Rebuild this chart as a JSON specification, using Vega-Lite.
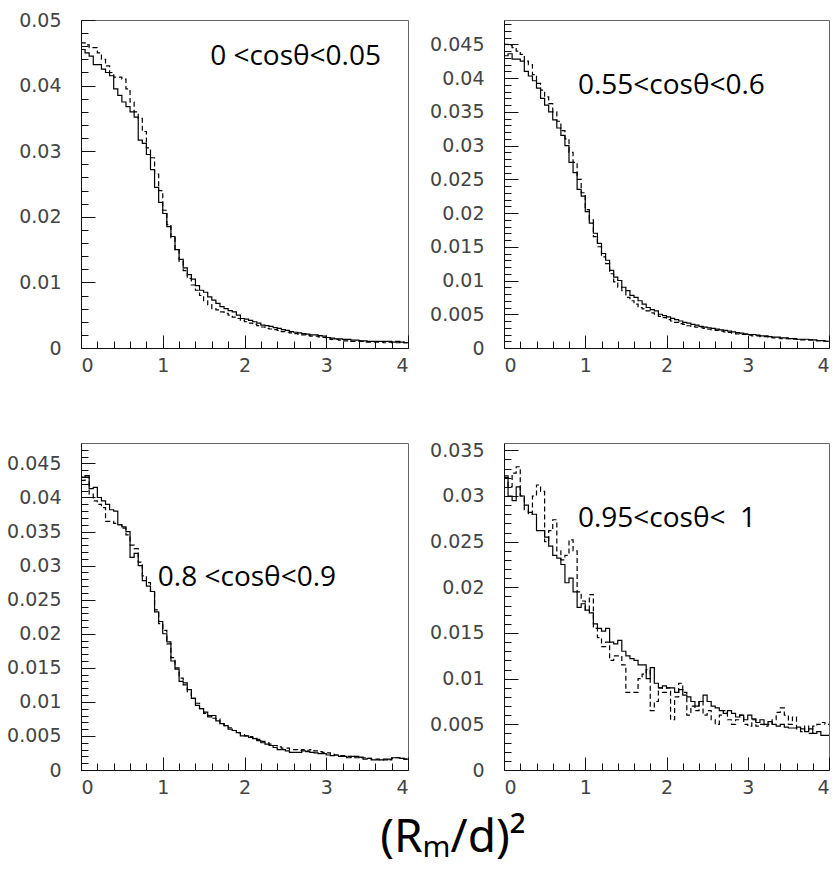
{
  "$schema": "https://vega.github.io/schema/vega-lite/v6.json",
  "padding": {"left": 6, "top": 10, "right": 0, "bottom": 14},
  "background": "white",
  "config": {
    "view": {"stroke": "#666", "strokeWidth": 1},
    "axis": {"grid": false, "title": null, "labelFont": "DejaVu Sans", "labelFontSize": 19, "labelColor": "#444", "tickColor": "#111", "domainColor": "#111", "tickWidth": 1, "domainWidth": 1}
  },
  "title": {"text": "(Rₘ/d)²", "orient": "bottom", "anchor": "middle", "font": "Noto Sans", "fontSize": 46, "fontWeight": "normal", "color": "black", "offset": 18, "dx": 34},
  "datasets": {
    "labels": [
      {"p": 1, "label": "0 <cosθ<0.05"},
      {"p": 2, "label": "0.55<cosθ<0.6"},
      {"p": 3, "label": "0.8 <cosθ<0.9"},
      {"p": 4, "label": "0.95<cosθ<\u00a0\u00a01"}
    ],
    "h": [
{"p":1,"s":"solid","x":0.00,"y":0.0455},{"p":1,"s":"solid","x":0.05,"y":0.0450},{"p":1,"s":"solid","x":0.10,"y":0.0445},{"p":1,"s":"solid","x":0.15,"y":0.0432},{"p":1,"s":"solid","x":0.20,"y":0.0432},{"p":1,"s":"solid","x":0.25,"y":0.0425},{"p":1,"s":"solid","x":0.30,"y":0.0420},{"p":1,"s":"solid","x":0.35,"y":0.0415},{"p":1,"s":"solid","x":0.40,"y":0.0395},{"p":1,"s":"solid","x":0.45,"y":0.0385},
{"p":1,"s":"solid","x":0.50,"y":0.0375},{"p":1,"s":"solid","x":0.55,"y":0.0368},{"p":1,"s":"solid","x":0.60,"y":0.0360},{"p":1,"s":"solid","x":0.65,"y":0.0352},{"p":1,"s":"solid","x":0.70,"y":0.0317},{"p":1,"s":"solid","x":0.75,"y":0.0312},{"p":1,"s":"solid","x":0.80,"y":0.0295},{"p":1,"s":"solid","x":0.85,"y":0.0272},{"p":1,"s":"solid","x":0.90,"y":0.0245},{"p":1,"s":"solid","x":0.95,"y":0.0222},
{"p":1,"s":"solid","x":1.00,"y":0.0205},{"p":1,"s":"solid","x":1.05,"y":0.0185},{"p":1,"s":"solid","x":1.10,"y":0.0170},{"p":1,"s":"solid","x":1.15,"y":0.0150},{"p":1,"s":"solid","x":1.20,"y":0.0135},{"p":1,"s":"solid","x":1.25,"y":0.0122},{"p":1,"s":"solid","x":1.30,"y":0.0112},{"p":1,"s":"solid","x":1.35,"y":0.0105},{"p":1,"s":"solid","x":1.40,"y":0.0095},{"p":1,"s":"solid","x":1.45,"y":0.0088},
{"p":1,"s":"solid","x":1.50,"y":0.0085},{"p":1,"s":"solid","x":1.55,"y":0.0078},{"p":1,"s":"solid","x":1.60,"y":0.0073},{"p":1,"s":"solid","x":1.65,"y":0.0068},{"p":1,"s":"solid","x":1.70,"y":0.0063},{"p":1,"s":"solid","x":1.75,"y":0.0060},{"p":1,"s":"solid","x":1.80,"y":0.0057},{"p":1,"s":"solid","x":1.85,"y":0.0055},{"p":1,"s":"solid","x":1.90,"y":0.0050},{"p":1,"s":"solid","x":1.95,"y":0.0045},
{"p":1,"s":"solid","x":2.00,"y":0.0044},{"p":1,"s":"solid","x":2.05,"y":0.0042},{"p":1,"s":"solid","x":2.10,"y":0.0040},{"p":1,"s":"solid","x":2.15,"y":0.0038},{"p":1,"s":"solid","x":2.20,"y":0.0035},{"p":1,"s":"solid","x":2.25,"y":0.0034},{"p":1,"s":"solid","x":2.30,"y":0.0033},{"p":1,"s":"solid","x":2.35,"y":0.0031},{"p":1,"s":"solid","x":2.40,"y":0.0030},{"p":1,"s":"solid","x":2.45,"y":0.0028},
{"p":1,"s":"solid","x":2.50,"y":0.0027},{"p":1,"s":"solid","x":2.55,"y":0.0025},{"p":1,"s":"solid","x":2.60,"y":0.0024},{"p":1,"s":"solid","x":2.65,"y":0.0023},{"p":1,"s":"solid","x":2.70,"y":0.0022},{"p":1,"s":"solid","x":2.75,"y":0.0021},{"p":1,"s":"solid","x":2.80,"y":0.0020},{"p":1,"s":"solid","x":2.85,"y":0.0020},{"p":1,"s":"solid","x":2.90,"y":0.0019},{"p":1,"s":"solid","x":2.95,"y":0.0018},
{"p":1,"s":"solid","x":3.00,"y":0.0016},{"p":1,"s":"solid","x":3.05,"y":0.0015},{"p":1,"s":"solid","x":3.10,"y":0.0014},{"p":1,"s":"solid","x":3.15,"y":0.0014},{"p":1,"s":"solid","x":3.20,"y":0.0013},{"p":1,"s":"solid","x":3.25,"y":0.0013},{"p":1,"s":"solid","x":3.30,"y":0.0012},{"p":1,"s":"solid","x":3.35,"y":0.0012},{"p":1,"s":"solid","x":3.40,"y":0.0011},{"p":1,"s":"solid","x":3.45,"y":0.0011},
{"p":1,"s":"solid","x":3.50,"y":0.0010},{"p":1,"s":"solid","x":3.55,"y":0.0010},{"p":1,"s":"solid","x":3.60,"y":0.0010},{"p":1,"s":"solid","x":3.65,"y":0.0010},{"p":1,"s":"solid","x":3.70,"y":0.0010},{"p":1,"s":"solid","x":3.75,"y":0.0010},{"p":1,"s":"solid","x":3.80,"y":0.0009},{"p":1,"s":"solid","x":3.85,"y":0.0010},{"p":1,"s":"solid","x":3.90,"y":0.0009},{"p":1,"s":"solid","x":3.95,"y":0.0008},{"p":1,"s":"solid","x":4.00,"y":0.0008},

{"p":1,"s":"dashed","x":0.00,"y":0.0465},{"p":1,"s":"dashed","x":0.05,"y":0.0462},{"p":1,"s":"dashed","x":0.10,"y":0.0458},{"p":1,"s":"dashed","x":0.15,"y":0.0458},{"p":1,"s":"dashed","x":0.20,"y":0.0450},{"p":1,"s":"dashed","x":0.25,"y":0.0440},{"p":1,"s":"dashed","x":0.30,"y":0.0430},{"p":1,"s":"dashed","x":0.35,"y":0.0420},{"p":1,"s":"dashed","x":0.40,"y":0.0413},{"p":1,"s":"dashed","x":0.45,"y":0.0413},
{"p":1,"s":"dashed","x":0.50,"y":0.0410},{"p":1,"s":"dashed","x":0.55,"y":0.0395},{"p":1,"s":"dashed","x":0.60,"y":0.0375},{"p":1,"s":"dashed","x":0.65,"y":0.0360},{"p":1,"s":"dashed","x":0.70,"y":0.0350},{"p":1,"s":"dashed","x":0.75,"y":0.0330},{"p":1,"s":"dashed","x":0.80,"y":0.0305},{"p":1,"s":"dashed","x":0.85,"y":0.0290},{"p":1,"s":"dashed","x":0.90,"y":0.0265},{"p":1,"s":"dashed","x":0.95,"y":0.0240},
{"p":1,"s":"dashed","x":1.00,"y":0.0210},{"p":1,"s":"dashed","x":1.05,"y":0.0188},{"p":1,"s":"dashed","x":1.10,"y":0.0168},{"p":1,"s":"dashed","x":1.15,"y":0.0150},{"p":1,"s":"dashed","x":1.20,"y":0.0132},{"p":1,"s":"dashed","x":1.25,"y":0.0118},{"p":1,"s":"dashed","x":1.30,"y":0.0106},{"p":1,"s":"dashed","x":1.35,"y":0.0096},{"p":1,"s":"dashed","x":1.40,"y":0.0088},{"p":1,"s":"dashed","x":1.45,"y":0.0080},
{"p":1,"s":"dashed","x":1.50,"y":0.0072},{"p":1,"s":"dashed","x":1.55,"y":0.0066},{"p":1,"s":"dashed","x":1.60,"y":0.0060},{"p":1,"s":"dashed","x":1.65,"y":0.0058},{"p":1,"s":"dashed","x":1.70,"y":0.0055},{"p":1,"s":"dashed","x":1.75,"y":0.0053},{"p":1,"s":"dashed","x":1.80,"y":0.0050},{"p":1,"s":"dashed","x":1.85,"y":0.0047},{"p":1,"s":"dashed","x":1.90,"y":0.0045},{"p":1,"s":"dashed","x":1.95,"y":0.0042},
{"p":1,"s":"dashed","x":2.00,"y":0.0040},{"p":1,"s":"dashed","x":2.05,"y":0.0038},{"p":1,"s":"dashed","x":2.10,"y":0.0036},{"p":1,"s":"dashed","x":2.15,"y":0.0034},{"p":1,"s":"dashed","x":2.20,"y":0.0032},{"p":1,"s":"dashed","x":2.25,"y":0.0030},{"p":1,"s":"dashed","x":2.30,"y":0.0029},{"p":1,"s":"dashed","x":2.35,"y":0.0028},{"p":1,"s":"dashed","x":2.40,"y":0.0027},{"p":1,"s":"dashed","x":2.45,"y":0.0025},
{"p":1,"s":"dashed","x":2.50,"y":0.0024},{"p":1,"s":"dashed","x":2.55,"y":0.0023},{"p":1,"s":"dashed","x":2.60,"y":0.0022},{"p":1,"s":"dashed","x":2.65,"y":0.0021},{"p":1,"s":"dashed","x":2.70,"y":0.0020},{"p":1,"s":"dashed","x":2.75,"y":0.0019},{"p":1,"s":"dashed","x":2.80,"y":0.0018},{"p":1,"s":"dashed","x":2.85,"y":0.0018},{"p":1,"s":"dashed","x":2.90,"y":0.0017},{"p":1,"s":"dashed","x":2.95,"y":0.0016},
{"p":1,"s":"dashed","x":3.00,"y":0.0014},{"p":1,"s":"dashed","x":3.05,"y":0.0013},{"p":1,"s":"dashed","x":3.10,"y":0.0013},{"p":1,"s":"dashed","x":3.15,"y":0.0012},{"p":1,"s":"dashed","x":3.20,"y":0.0011},{"p":1,"s":"dashed","x":3.25,"y":0.0011},{"p":1,"s":"dashed","x":3.30,"y":0.0010},{"p":1,"s":"dashed","x":3.35,"y":0.0010},{"p":1,"s":"dashed","x":3.40,"y":0.0010},{"p":1,"s":"dashed","x":3.45,"y":0.0009},
{"p":1,"s":"dashed","x":3.50,"y":0.0009},{"p":1,"s":"dashed","x":3.55,"y":0.0009},{"p":1,"s":"dashed","x":3.60,"y":0.0009},{"p":1,"s":"dashed","x":3.65,"y":0.0009},{"p":1,"s":"dashed","x":3.70,"y":0.0008},{"p":1,"s":"dashed","x":3.75,"y":0.0009},{"p":1,"s":"dashed","x":3.80,"y":0.0008},{"p":1,"s":"dashed","x":3.85,"y":0.0008},{"p":1,"s":"dashed","x":3.90,"y":0.0009},{"p":1,"s":"dashed","x":3.95,"y":0.0008},{"p":1,"s":"dashed","x":4.00,"y":0.0008},

{"p":2,"s":"solid","x":0.00,"y":0.0433},{"p":2,"s":"solid","x":0.05,"y":0.0436},{"p":2,"s":"solid","x":0.10,"y":0.0428},{"p":2,"s":"solid","x":0.15,"y":0.0428},{"p":2,"s":"solid","x":0.20,"y":0.0425},{"p":2,"s":"solid","x":0.25,"y":0.0410},{"p":2,"s":"solid","x":0.30,"y":0.0403},{"p":2,"s":"solid","x":0.35,"y":0.0396},{"p":2,"s":"solid","x":0.40,"y":0.0385},{"p":2,"s":"solid","x":0.45,"y":0.0370},
{"p":2,"s":"solid","x":0.50,"y":0.0360},{"p":2,"s":"solid","x":0.55,"y":0.0350},{"p":2,"s":"solid","x":0.60,"y":0.0338},{"p":2,"s":"solid","x":0.65,"y":0.0326},{"p":2,"s":"solid","x":0.70,"y":0.0315},{"p":2,"s":"solid","x":0.75,"y":0.0300},{"p":2,"s":"solid","x":0.80,"y":0.0275},{"p":2,"s":"solid","x":0.85,"y":0.0260},{"p":2,"s":"solid","x":0.90,"y":0.0235},{"p":2,"s":"solid","x":0.95,"y":0.0225},
{"p":2,"s":"solid","x":1.00,"y":0.0202},{"p":2,"s":"solid","x":1.05,"y":0.0185},{"p":2,"s":"solid","x":1.10,"y":0.0170},{"p":2,"s":"solid","x":1.15,"y":0.0155},{"p":2,"s":"solid","x":1.20,"y":0.0140},{"p":2,"s":"solid","x":1.25,"y":0.0130},{"p":2,"s":"solid","x":1.30,"y":0.0115},{"p":2,"s":"solid","x":1.35,"y":0.0105},{"p":2,"s":"solid","x":1.40,"y":0.0100},{"p":2,"s":"solid","x":1.45,"y":0.0090},
{"p":2,"s":"solid","x":1.50,"y":0.0085},{"p":2,"s":"solid","x":1.55,"y":0.0078},{"p":2,"s":"solid","x":1.60,"y":0.0075},{"p":2,"s":"solid","x":1.65,"y":0.0070},{"p":2,"s":"solid","x":1.70,"y":0.0065},{"p":2,"s":"solid","x":1.75,"y":0.0060},{"p":2,"s":"solid","x":1.80,"y":0.0057},{"p":2,"s":"solid","x":1.85,"y":0.0055},{"p":2,"s":"solid","x":1.90,"y":0.0050},{"p":2,"s":"solid","x":1.95,"y":0.0048},
{"p":2,"s":"solid","x":2.00,"y":0.0046},{"p":2,"s":"solid","x":2.05,"y":0.0044},{"p":2,"s":"solid","x":2.10,"y":0.0042},{"p":2,"s":"solid","x":2.15,"y":0.0040},{"p":2,"s":"solid","x":2.20,"y":0.0038},{"p":2,"s":"solid","x":2.25,"y":0.0037},{"p":2,"s":"solid","x":2.30,"y":0.0035},{"p":2,"s":"solid","x":2.35,"y":0.0034},{"p":2,"s":"solid","x":2.40,"y":0.0032},{"p":2,"s":"solid","x":2.45,"y":0.0031},
{"p":2,"s":"solid","x":2.50,"y":0.0030},{"p":2,"s":"solid","x":2.55,"y":0.0029},{"p":2,"s":"solid","x":2.60,"y":0.0028},{"p":2,"s":"solid","x":2.65,"y":0.0027},{"p":2,"s":"solid","x":2.70,"y":0.0026},{"p":2,"s":"solid","x":2.75,"y":0.0025},{"p":2,"s":"solid","x":2.80,"y":0.0024},{"p":2,"s":"solid","x":2.85,"y":0.0023},{"p":2,"s":"solid","x":2.90,"y":0.0022},{"p":2,"s":"solid","x":2.95,"y":0.0021},
{"p":2,"s":"solid","x":3.00,"y":0.0020},{"p":2,"s":"solid","x":3.05,"y":0.0020},{"p":2,"s":"solid","x":3.10,"y":0.0019},{"p":2,"s":"solid","x":3.15,"y":0.0018},{"p":2,"s":"solid","x":3.20,"y":0.0018},{"p":2,"s":"solid","x":3.25,"y":0.0017},{"p":2,"s":"solid","x":3.30,"y":0.0016},{"p":2,"s":"solid","x":3.35,"y":0.0016},{"p":2,"s":"solid","x":3.40,"y":0.0015},{"p":2,"s":"solid","x":3.45,"y":0.0015},
{"p":2,"s":"solid","x":3.50,"y":0.0014},{"p":2,"s":"solid","x":3.55,"y":0.0014},{"p":2,"s":"solid","x":3.60,"y":0.0013},{"p":2,"s":"solid","x":3.65,"y":0.0013},{"p":2,"s":"solid","x":3.70,"y":0.0013},{"p":2,"s":"solid","x":3.75,"y":0.0012},{"p":2,"s":"solid","x":3.80,"y":0.0012},{"p":2,"s":"solid","x":3.85,"y":0.0011},{"p":2,"s":"solid","x":3.90,"y":0.0011},{"p":2,"s":"solid","x":3.95,"y":0.0010},{"p":2,"s":"solid","x":4.00,"y":0.0010},

{"p":2,"s":"dashed","x":0.00,"y":0.0450},{"p":2,"s":"dashed","x":0.05,"y":0.0448},{"p":2,"s":"dashed","x":0.10,"y":0.0445},{"p":2,"s":"dashed","x":0.15,"y":0.0440},{"p":2,"s":"dashed","x":0.20,"y":0.0435},{"p":2,"s":"dashed","x":0.25,"y":0.0425},{"p":2,"s":"dashed","x":0.30,"y":0.0420},{"p":2,"s":"dashed","x":0.35,"y":0.0405},{"p":2,"s":"dashed","x":0.40,"y":0.0392},{"p":2,"s":"dashed","x":0.45,"y":0.0382},
{"p":2,"s":"dashed","x":0.50,"y":0.0372},{"p":2,"s":"dashed","x":0.55,"y":0.0362},{"p":2,"s":"dashed","x":0.60,"y":0.0350},{"p":2,"s":"dashed","x":0.65,"y":0.0336},{"p":2,"s":"dashed","x":0.70,"y":0.0322},{"p":2,"s":"dashed","x":0.75,"y":0.0310},{"p":2,"s":"dashed","x":0.80,"y":0.0290},{"p":2,"s":"dashed","x":0.85,"y":0.0275},{"p":2,"s":"dashed","x":0.90,"y":0.0250},{"p":2,"s":"dashed","x":0.95,"y":0.0230},
{"p":2,"s":"dashed","x":1.00,"y":0.0205},{"p":2,"s":"dashed","x":1.05,"y":0.0190},{"p":2,"s":"dashed","x":1.10,"y":0.0165},{"p":2,"s":"dashed","x":1.15,"y":0.0150},{"p":2,"s":"dashed","x":1.20,"y":0.0135},{"p":2,"s":"dashed","x":1.25,"y":0.0125},{"p":2,"s":"dashed","x":1.30,"y":0.0110},{"p":2,"s":"dashed","x":1.35,"y":0.0098},{"p":2,"s":"dashed","x":1.40,"y":0.0090},{"p":2,"s":"dashed","x":1.45,"y":0.0085},
{"p":2,"s":"dashed","x":1.50,"y":0.0075},{"p":2,"s":"dashed","x":1.55,"y":0.0070},{"p":2,"s":"dashed","x":1.60,"y":0.0065},{"p":2,"s":"dashed","x":1.65,"y":0.0060},{"p":2,"s":"dashed","x":1.70,"y":0.0058},{"p":2,"s":"dashed","x":1.75,"y":0.0055},{"p":2,"s":"dashed","x":1.80,"y":0.0052},{"p":2,"s":"dashed","x":1.85,"y":0.0050},{"p":2,"s":"dashed","x":1.90,"y":0.0047},{"p":2,"s":"dashed","x":1.95,"y":0.0045},
{"p":2,"s":"dashed","x":2.00,"y":0.0042},{"p":2,"s":"dashed","x":2.05,"y":0.0040},{"p":2,"s":"dashed","x":2.10,"y":0.0038},{"p":2,"s":"dashed","x":2.15,"y":0.0036},{"p":2,"s":"dashed","x":2.20,"y":0.0035},{"p":2,"s":"dashed","x":2.25,"y":0.0033},{"p":2,"s":"dashed","x":2.30,"y":0.0032},{"p":2,"s":"dashed","x":2.35,"y":0.0031},{"p":2,"s":"dashed","x":2.40,"y":0.0030},{"p":2,"s":"dashed","x":2.45,"y":0.0029},
{"p":2,"s":"dashed","x":2.50,"y":0.0028},{"p":2,"s":"dashed","x":2.55,"y":0.0027},{"p":2,"s":"dashed","x":2.60,"y":0.0026},{"p":2,"s":"dashed","x":2.65,"y":0.0025},{"p":2,"s":"dashed","x":2.70,"y":0.0024},{"p":2,"s":"dashed","x":2.75,"y":0.0023},{"p":2,"s":"dashed","x":2.80,"y":0.0022},{"p":2,"s":"dashed","x":2.85,"y":0.0021},{"p":2,"s":"dashed","x":2.90,"y":0.0020},{"p":2,"s":"dashed","x":2.95,"y":0.0020},
{"p":2,"s":"dashed","x":3.00,"y":0.0019},{"p":2,"s":"dashed","x":3.05,"y":0.0018},{"p":2,"s":"dashed","x":3.10,"y":0.0018},{"p":2,"s":"dashed","x":3.15,"y":0.0017},{"p":2,"s":"dashed","x":3.20,"y":0.0017},{"p":2,"s":"dashed","x":3.25,"y":0.0016},{"p":2,"s":"dashed","x":3.30,"y":0.0015},{"p":2,"s":"dashed","x":3.35,"y":0.0015},{"p":2,"s":"dashed","x":3.40,"y":0.0014},{"p":2,"s":"dashed","x":3.45,"y":0.0014},
{"p":2,"s":"dashed","x":3.50,"y":0.0014},{"p":2,"s":"dashed","x":3.55,"y":0.0013},{"p":2,"s":"dashed","x":3.60,"y":0.0013},{"p":2,"s":"dashed","x":3.65,"y":0.0012},{"p":2,"s":"dashed","x":3.70,"y":0.0012},{"p":2,"s":"dashed","x":3.75,"y":0.0012},{"p":2,"s":"dashed","x":3.80,"y":0.0011},{"p":2,"s":"dashed","x":3.85,"y":0.0011},{"p":2,"s":"dashed","x":3.90,"y":0.0010},{"p":2,"s":"dashed","x":3.95,"y":0.0010},{"p":2,"s":"dashed","x":4.00,"y":0.0010},

{"p":3,"s":"solid","x":0.00,"y":0.0430},{"p":3,"s":"solid","x":0.05,"y":0.0432},{"p":3,"s":"solid","x":0.10,"y":0.0413},{"p":3,"s":"solid","x":0.15,"y":0.0415},{"p":3,"s":"solid","x":0.20,"y":0.0400},{"p":3,"s":"solid","x":0.25,"y":0.0395},{"p":3,"s":"solid","x":0.30,"y":0.0390},{"p":3,"s":"solid","x":0.35,"y":0.0382},{"p":3,"s":"solid","x":0.40,"y":0.0380},{"p":3,"s":"solid","x":0.45,"y":0.0360},
{"p":3,"s":"solid","x":0.50,"y":0.0357},{"p":3,"s":"solid","x":0.55,"y":0.0350},{"p":3,"s":"solid","x":0.60,"y":0.0312},{"p":3,"s":"solid","x":0.65,"y":0.0318},{"p":3,"s":"solid","x":0.70,"y":0.0300},{"p":3,"s":"solid","x":0.75,"y":0.0278},{"p":3,"s":"solid","x":0.80,"y":0.0270},{"p":3,"s":"solid","x":0.85,"y":0.0262},{"p":3,"s":"solid","x":0.90,"y":0.0232},{"p":3,"s":"solid","x":0.95,"y":0.0218},
{"p":3,"s":"solid","x":1.00,"y":0.0200},{"p":3,"s":"solid","x":1.05,"y":0.0188},{"p":3,"s":"solid","x":1.10,"y":0.0160},{"p":3,"s":"solid","x":1.15,"y":0.0148},{"p":3,"s":"solid","x":1.20,"y":0.0130},{"p":3,"s":"solid","x":1.25,"y":0.0128},{"p":3,"s":"solid","x":1.30,"y":0.0118},{"p":3,"s":"solid","x":1.35,"y":0.0105},{"p":3,"s":"solid","x":1.40,"y":0.0095},{"p":3,"s":"solid","x":1.45,"y":0.0090},
{"p":3,"s":"solid","x":1.50,"y":0.0085},{"p":3,"s":"solid","x":1.55,"y":0.0078},{"p":3,"s":"solid","x":1.60,"y":0.0080},{"p":3,"s":"solid","x":1.65,"y":0.0072},{"p":3,"s":"solid","x":1.70,"y":0.0068},{"p":3,"s":"solid","x":1.75,"y":0.0065},{"p":3,"s":"solid","x":1.80,"y":0.0060},{"p":3,"s":"solid","x":1.85,"y":0.0058},{"p":3,"s":"solid","x":1.90,"y":0.0055},{"p":3,"s":"solid","x":1.95,"y":0.0050},
{"p":3,"s":"solid","x":2.00,"y":0.0050},{"p":3,"s":"solid","x":2.05,"y":0.0048},{"p":3,"s":"solid","x":2.10,"y":0.0046},{"p":3,"s":"solid","x":2.15,"y":0.0043},{"p":3,"s":"solid","x":2.20,"y":0.0040},{"p":3,"s":"solid","x":2.25,"y":0.0038},{"p":3,"s":"solid","x":2.30,"y":0.0036},{"p":3,"s":"solid","x":2.35,"y":0.0033},{"p":3,"s":"solid","x":2.40,"y":0.0030},{"p":3,"s":"solid","x":2.45,"y":0.0030},
{"p":3,"s":"solid","x":2.50,"y":0.0028},{"p":3,"s":"solid","x":2.55,"y":0.0026},{"p":3,"s":"solid","x":2.60,"y":0.0026},{"p":3,"s":"solid","x":2.65,"y":0.0026},{"p":3,"s":"solid","x":2.70,"y":0.0028},{"p":3,"s":"solid","x":2.75,"y":0.0027},{"p":3,"s":"solid","x":2.80,"y":0.0026},{"p":3,"s":"solid","x":2.85,"y":0.0025},{"p":3,"s":"solid","x":2.90,"y":0.0024},{"p":3,"s":"solid","x":2.95,"y":0.0024},
{"p":3,"s":"solid","x":3.00,"y":0.0022},{"p":3,"s":"solid","x":3.05,"y":0.0021},{"p":3,"s":"solid","x":3.10,"y":0.0022},{"p":3,"s":"solid","x":3.15,"y":0.0020},{"p":3,"s":"solid","x":3.20,"y":0.0020},{"p":3,"s":"solid","x":3.25,"y":0.0018},{"p":3,"s":"solid","x":3.30,"y":0.0020},{"p":3,"s":"solid","x":3.35,"y":0.0018},{"p":3,"s":"solid","x":3.40,"y":0.0019},{"p":3,"s":"solid","x":3.45,"y":0.0016},
{"p":3,"s":"solid","x":3.50,"y":0.0017},{"p":3,"s":"solid","x":3.55,"y":0.0015},{"p":3,"s":"solid","x":3.60,"y":0.0015},{"p":3,"s":"solid","x":3.65,"y":0.0015},{"p":3,"s":"solid","x":3.70,"y":0.0015},{"p":3,"s":"solid","x":3.75,"y":0.0016},{"p":3,"s":"solid","x":3.80,"y":0.0018},{"p":3,"s":"solid","x":3.85,"y":0.0018},{"p":3,"s":"solid","x":3.90,"y":0.0017},{"p":3,"s":"solid","x":3.95,"y":0.0016},{"p":3,"s":"solid","x":4.00,"y":0.0016},

{"p":3,"s":"dashed","x":0.00,"y":0.0425},{"p":3,"s":"dashed","x":0.05,"y":0.0430},{"p":3,"s":"dashed","x":0.10,"y":0.0405},{"p":3,"s":"dashed","x":0.15,"y":0.0395},{"p":3,"s":"dashed","x":0.20,"y":0.0390},{"p":3,"s":"dashed","x":0.25,"y":0.0385},{"p":3,"s":"dashed","x":0.30,"y":0.0365},{"p":3,"s":"dashed","x":0.35,"y":0.0365},{"p":3,"s":"dashed","x":0.40,"y":0.0362},{"p":3,"s":"dashed","x":0.45,"y":0.0360},
{"p":3,"s":"dashed","x":0.50,"y":0.0355},{"p":3,"s":"dashed","x":0.55,"y":0.0345},{"p":3,"s":"dashed","x":0.60,"y":0.0330},{"p":3,"s":"dashed","x":0.65,"y":0.0325},{"p":3,"s":"dashed","x":0.70,"y":0.0305},{"p":3,"s":"dashed","x":0.75,"y":0.0285},{"p":3,"s":"dashed","x":0.80,"y":0.0275},{"p":3,"s":"dashed","x":0.85,"y":0.0262},{"p":3,"s":"dashed","x":0.90,"y":0.0235},{"p":3,"s":"dashed","x":0.95,"y":0.0215},
{"p":3,"s":"dashed","x":1.00,"y":0.0205},{"p":3,"s":"dashed","x":1.05,"y":0.0185},{"p":3,"s":"dashed","x":1.10,"y":0.0165},{"p":3,"s":"dashed","x":1.15,"y":0.0150},{"p":3,"s":"dashed","x":1.20,"y":0.0135},{"p":3,"s":"dashed","x":1.25,"y":0.0125},{"p":3,"s":"dashed","x":1.30,"y":0.0115},{"p":3,"s":"dashed","x":1.35,"y":0.0105},{"p":3,"s":"dashed","x":1.40,"y":0.0098},{"p":3,"s":"dashed","x":1.45,"y":0.0090},
{"p":3,"s":"dashed","x":1.50,"y":0.0083},{"p":3,"s":"dashed","x":1.55,"y":0.0080},{"p":3,"s":"dashed","x":1.60,"y":0.0076},{"p":3,"s":"dashed","x":1.65,"y":0.0075},{"p":3,"s":"dashed","x":1.70,"y":0.0068},{"p":3,"s":"dashed","x":1.75,"y":0.0065},{"p":3,"s":"dashed","x":1.80,"y":0.0062},{"p":3,"s":"dashed","x":1.85,"y":0.0058},{"p":3,"s":"dashed","x":1.90,"y":0.0055},{"p":3,"s":"dashed","x":1.95,"y":0.0052},
{"p":3,"s":"dashed","x":2.00,"y":0.0050},{"p":3,"s":"dashed","x":2.05,"y":0.0049},{"p":3,"s":"dashed","x":2.10,"y":0.0047},{"p":3,"s":"dashed","x":2.15,"y":0.0045},{"p":3,"s":"dashed","x":2.20,"y":0.0042},{"p":3,"s":"dashed","x":2.25,"y":0.0040},{"p":3,"s":"dashed","x":2.30,"y":0.0038},{"p":3,"s":"dashed","x":2.35,"y":0.0036},{"p":3,"s":"dashed","x":2.40,"y":0.0034},{"p":3,"s":"dashed","x":2.45,"y":0.0032},
{"p":3,"s":"dashed","x":2.50,"y":0.0032},{"p":3,"s":"dashed","x":2.55,"y":0.0030},{"p":3,"s":"dashed","x":2.60,"y":0.0030},{"p":3,"s":"dashed","x":2.65,"y":0.0029},{"p":3,"s":"dashed","x":2.70,"y":0.0030},{"p":3,"s":"dashed","x":2.75,"y":0.0029},{"p":3,"s":"dashed","x":2.80,"y":0.0030},{"p":3,"s":"dashed","x":2.85,"y":0.0028},{"p":3,"s":"dashed","x":2.90,"y":0.0027},{"p":3,"s":"dashed","x":2.95,"y":0.0026},
{"p":3,"s":"dashed","x":3.00,"y":0.0025},{"p":3,"s":"dashed","x":3.05,"y":0.0023},{"p":3,"s":"dashed","x":3.10,"y":0.0022},{"p":3,"s":"dashed","x":3.15,"y":0.0021},{"p":3,"s":"dashed","x":3.20,"y":0.0021},{"p":3,"s":"dashed","x":3.25,"y":0.0020},{"p":3,"s":"dashed","x":3.30,"y":0.0019},{"p":3,"s":"dashed","x":3.35,"y":0.0020},{"p":3,"s":"dashed","x":3.40,"y":0.0018},{"p":3,"s":"dashed","x":3.45,"y":0.0018},
{"p":3,"s":"dashed","x":3.50,"y":0.0017},{"p":3,"s":"dashed","x":3.55,"y":0.0016},{"p":3,"s":"dashed","x":3.60,"y":0.0016},{"p":3,"s":"dashed","x":3.65,"y":0.0015},{"p":3,"s":"dashed","x":3.70,"y":0.0016},{"p":3,"s":"dashed","x":3.75,"y":0.0015},{"p":3,"s":"dashed","x":3.80,"y":0.0017},{"p":3,"s":"dashed","x":3.85,"y":0.0018},{"p":3,"s":"dashed","x":3.90,"y":0.0017},{"p":3,"s":"dashed","x":3.95,"y":0.0016},{"p":3,"s":"dashed","x":4.00,"y":0.0016},

{"p":4,"s":"solid","x":0.00,"y":0.0322},{"p":4,"s":"solid","x":0.05,"y":0.0300},{"p":4,"s":"solid","x":0.10,"y":0.0295},{"p":4,"s":"solid","x":0.15,"y":0.0310},{"p":4,"s":"solid","x":0.20,"y":0.0300},{"p":4,"s":"solid","x":0.25,"y":0.0290},{"p":4,"s":"solid","x":0.30,"y":0.0282},{"p":4,"s":"solid","x":0.35,"y":0.0280},{"p":4,"s":"solid","x":0.40,"y":0.0262},{"p":4,"s":"solid","x":0.45,"y":0.0262},
{"p":4,"s":"solid","x":0.50,"y":0.0255},{"p":4,"s":"solid","x":0.55,"y":0.0245},{"p":4,"s":"solid","x":0.60,"y":0.0235},{"p":4,"s":"solid","x":0.65,"y":0.0232},{"p":4,"s":"solid","x":0.70,"y":0.0225},{"p":4,"s":"solid","x":0.75,"y":0.0205},{"p":4,"s":"solid","x":0.80,"y":0.0210},{"p":4,"s":"solid","x":0.85,"y":0.0195},{"p":4,"s":"solid","x":0.90,"y":0.0178},{"p":4,"s":"solid","x":0.95,"y":0.0182},
{"p":4,"s":"solid","x":1.00,"y":0.0175},{"p":4,"s":"solid","x":1.05,"y":0.0172},{"p":4,"s":"solid","x":1.10,"y":0.0160},{"p":4,"s":"solid","x":1.15,"y":0.0155},{"p":4,"s":"solid","x":1.20,"y":0.0152},{"p":4,"s":"solid","x":1.25,"y":0.0155},{"p":4,"s":"solid","x":1.30,"y":0.0140},{"p":4,"s":"solid","x":1.35,"y":0.0138},{"p":4,"s":"solid","x":1.40,"y":0.0142},{"p":4,"s":"solid","x":1.45,"y":0.0130},
{"p":4,"s":"solid","x":1.50,"y":0.0125},{"p":4,"s":"solid","x":1.55,"y":0.0122},{"p":4,"s":"solid","x":1.60,"y":0.0120},{"p":4,"s":"solid","x":1.65,"y":0.0115},{"p":4,"s":"solid","x":1.70,"y":0.0115},{"p":4,"s":"solid","x":1.75,"y":0.0100},{"p":4,"s":"solid","x":1.80,"y":0.0112},{"p":4,"s":"solid","x":1.85,"y":0.0095},{"p":4,"s":"solid","x":1.90,"y":0.0090},{"p":4,"s":"solid","x":1.95,"y":0.0092},
{"p":4,"s":"solid","x":2.00,"y":0.0090},{"p":4,"s":"solid","x":2.05,"y":0.0090},{"p":4,"s":"solid","x":2.10,"y":0.0085},{"p":4,"s":"solid","x":2.15,"y":0.0088},{"p":4,"s":"solid","x":2.20,"y":0.0082},{"p":4,"s":"solid","x":2.25,"y":0.0080},{"p":4,"s":"solid","x":2.30,"y":0.0075},{"p":4,"s":"solid","x":2.35,"y":0.0070},{"p":4,"s":"solid","x":2.40,"y":0.0075},{"p":4,"s":"solid","x":2.45,"y":0.0082},
{"p":4,"s":"solid","x":2.50,"y":0.0075},{"p":4,"s":"solid","x":2.55,"y":0.0070},{"p":4,"s":"solid","x":2.60,"y":0.0068},{"p":4,"s":"solid","x":2.65,"y":0.0065},{"p":4,"s":"solid","x":2.70,"y":0.0062},{"p":4,"s":"solid","x":2.75,"y":0.0065},{"p":4,"s":"solid","x":2.80,"y":0.0062},{"p":4,"s":"solid","x":2.85,"y":0.0058},{"p":4,"s":"solid","x":2.90,"y":0.0060},{"p":4,"s":"solid","x":2.95,"y":0.0055},
{"p":4,"s":"solid","x":3.00,"y":0.0060},{"p":4,"s":"solid","x":3.05,"y":0.0056},{"p":4,"s":"solid","x":3.10,"y":0.0052},{"p":4,"s":"solid","x":3.15,"y":0.0055},{"p":4,"s":"solid","x":3.20,"y":0.0050},{"p":4,"s":"solid","x":3.25,"y":0.0053},{"p":4,"s":"solid","x":3.30,"y":0.0050},{"p":4,"s":"solid","x":3.35,"y":0.0048},{"p":4,"s":"solid","x":3.40,"y":0.0050},{"p":4,"s":"solid","x":3.45,"y":0.0047},
{"p":4,"s":"solid","x":3.50,"y":0.0046},{"p":4,"s":"solid","x":3.55,"y":0.0046},{"p":4,"s":"solid","x":3.60,"y":0.0047},{"p":4,"s":"solid","x":3.65,"y":0.0045},{"p":4,"s":"solid","x":3.70,"y":0.0042},{"p":4,"s":"solid","x":3.75,"y":0.0045},{"p":4,"s":"solid","x":3.80,"y":0.0040},{"p":4,"s":"solid","x":3.85,"y":0.0042},{"p":4,"s":"solid","x":3.90,"y":0.0038},{"p":4,"s":"solid","x":3.95,"y":0.0038},{"p":4,"s":"solid","x":4.00,"y":0.0038},

{"p":4,"s":"dashed","x":0.00,"y":0.0320},{"p":4,"s":"dashed","x":0.05,"y":0.0310},{"p":4,"s":"dashed","x":0.10,"y":0.0325},{"p":4,"s":"dashed","x":0.15,"y":0.0332},{"p":4,"s":"dashed","x":0.20,"y":0.0300},{"p":4,"s":"dashed","x":0.25,"y":0.0285},{"p":4,"s":"dashed","x":0.30,"y":0.0280},{"p":4,"s":"dashed","x":0.35,"y":0.0300},{"p":4,"s":"dashed","x":0.40,"y":0.0312},{"p":4,"s":"dashed","x":0.45,"y":0.0305},
{"p":4,"s":"dashed","x":0.50,"y":0.0250},{"p":4,"s":"dashed","x":0.55,"y":0.0262},{"p":4,"s":"dashed","x":0.60,"y":0.0274},{"p":4,"s":"dashed","x":0.65,"y":0.0240},{"p":4,"s":"dashed","x":0.70,"y":0.0230},{"p":4,"s":"dashed","x":0.75,"y":0.0235},{"p":4,"s":"dashed","x":0.80,"y":0.0252},{"p":4,"s":"dashed","x":0.85,"y":0.0240},{"p":4,"s":"dashed","x":0.90,"y":0.0195},{"p":4,"s":"dashed","x":0.95,"y":0.0185},
{"p":4,"s":"dashed","x":1.00,"y":0.0175},{"p":4,"s":"dashed","x":1.05,"y":0.0192},{"p":4,"s":"dashed","x":1.10,"y":0.0155},{"p":4,"s":"dashed","x":1.15,"y":0.0145},{"p":4,"s":"dashed","x":1.20,"y":0.0135},{"p":4,"s":"dashed","x":1.25,"y":0.0140},{"p":4,"s":"dashed","x":1.30,"y":0.0120},{"p":4,"s":"dashed","x":1.35,"y":0.0125},{"p":4,"s":"dashed","x":1.40,"y":0.0125},{"p":4,"s":"dashed","x":1.45,"y":0.0115},
{"p":4,"s":"dashed","x":1.50,"y":0.0085},{"p":4,"s":"dashed","x":1.55,"y":0.0085},{"p":4,"s":"dashed","x":1.60,"y":0.0085},{"p":4,"s":"dashed","x":1.65,"y":0.0100},{"p":4,"s":"dashed","x":1.70,"y":0.0105},{"p":4,"s":"dashed","x":1.75,"y":0.0110},{"p":4,"s":"dashed","x":1.80,"y":0.0065},{"p":4,"s":"dashed","x":1.85,"y":0.0075},{"p":4,"s":"dashed","x":1.90,"y":0.0090},{"p":4,"s":"dashed","x":1.95,"y":0.0085},
{"p":4,"s":"dashed","x":2.00,"y":0.0090},{"p":4,"s":"dashed","x":2.05,"y":0.0055},{"p":4,"s":"dashed","x":2.10,"y":0.0080},{"p":4,"s":"dashed","x":2.15,"y":0.0095},{"p":4,"s":"dashed","x":2.20,"y":0.0085},{"p":4,"s":"dashed","x":2.25,"y":0.0060},{"p":4,"s":"dashed","x":2.30,"y":0.0070},{"p":4,"s":"dashed","x":2.35,"y":0.0065},{"p":4,"s":"dashed","x":2.40,"y":0.0075},{"p":4,"s":"dashed","x":2.45,"y":0.0060},
{"p":4,"s":"dashed","x":2.50,"y":0.0065},{"p":4,"s":"dashed","x":2.55,"y":0.0055},{"p":4,"s":"dashed","x":2.60,"y":0.0050},{"p":4,"s":"dashed","x":2.65,"y":0.0060},{"p":4,"s":"dashed","x":2.70,"y":0.0065},{"p":4,"s":"dashed","x":2.75,"y":0.0055},{"p":4,"s":"dashed","x":2.80,"y":0.0050},{"p":4,"s":"dashed","x":2.85,"y":0.0055},{"p":4,"s":"dashed","x":2.90,"y":0.0060},{"p":4,"s":"dashed","x":2.95,"y":0.0050},
{"p":4,"s":"dashed","x":3.00,"y":0.0048},{"p":4,"s":"dashed","x":3.05,"y":0.0055},{"p":4,"s":"dashed","x":3.10,"y":0.0048},{"p":4,"s":"dashed","x":3.15,"y":0.0050},{"p":4,"s":"dashed","x":3.20,"y":0.0048},{"p":4,"s":"dashed","x":3.25,"y":0.0050},{"p":4,"s":"dashed","x":3.30,"y":0.0055},{"p":4,"s":"dashed","x":3.35,"y":0.0063},{"p":4,"s":"dashed","x":3.40,"y":0.0068},{"p":4,"s":"dashed","x":3.45,"y":0.0060},
{"p":4,"s":"dashed","x":3.50,"y":0.0050},{"p":4,"s":"dashed","x":3.55,"y":0.0058},{"p":4,"s":"dashed","x":3.60,"y":0.0045},{"p":4,"s":"dashed","x":3.65,"y":0.0042},{"p":4,"s":"dashed","x":3.70,"y":0.0048},{"p":4,"s":"dashed","x":3.75,"y":0.0040},{"p":4,"s":"dashed","x":3.80,"y":0.0048},{"p":4,"s":"dashed","x":3.85,"y":0.0050},{"p":4,"s":"dashed","x":3.90,"y":0.0052},{"p":4,"s":"dashed","x":3.95,"y":0.0050},{"p":4,"s":"dashed","x":4.00,"y":0.0050}
    ]
  },
  "data": {"name": "h"},
  "columns": 2,
  "spacing": {"row": 95, "column": 96},
  "bounds": "flush",
  "concat": [
    {
      "width": 327, "height": 328,
      "transform": [{"filter": "datum.p == 1"}],
      "layer": [
        {
          "transform": [{"filter": "datum.s == 'solid'"}],
          "mark": {"type": "line", "interpolate": "step-after", "color": "black", "strokeWidth": 1.2},
          "encoding": {
            "x": {"field": "x", "type": "quantitative", "scale": {"domain": [0, 4], "nice": false}, "axis": {"orient": "bottom", "values": [0, 1, 2, 3, 4], "format": "~g", "tickSize": -13, "labelPadding": 21}},
            "y": {"field": "y", "type": "quantitative", "scale": {"domain": [0, 0.05], "nice": false}, "axis": {"orient": "left", "values": [0, 0.01, 0.02, 0.03, 0.04, 0.05], "format": "~g", "tickSize": -14, "labelPadding": 34}}
          }
        },
        {
          "transform": [{"filter": "datum.s == 'dashed'"}],
          "mark": {"type": "line", "interpolate": "step-after", "color": "black", "strokeWidth": 1.2, "strokeDash": [5, 3]},
          "encoding": {
            "x": {"field": "x", "type": "quantitative", "axis": {"orient": "bottom", "values": [0.2, 0.4, 0.6, 0.8, 1.2, 1.4, 1.6, 1.8, 2.2, 2.4, 2.6, 2.8, 3.2, 3.4, 3.6, 3.8], "labels": false, "domain": false, "tickSize": -7}},
            "y": {"field": "y", "type": "quantitative", "axis": {"orient": "left", "values": [0.002, 0.004, 0.006, 0.008, 0.012, 0.014, 0.016, 0.018, 0.022, 0.024, 0.026, 0.028, 0.032, 0.034, 0.036, 0.038, 0.042, 0.044, 0.046, 0.048], "labels": false, "domain": false, "tickSize": -7}}
          }
        },
        {
          "data": {"name": "labels"},
          "transform": [{"filter": "datum.p == 1"}],
          "mark": {"type": "text", "align": "left", "baseline": "middle", "font": "Open Sans", "fontSize": 28, "color": "black"},
          "encoding": {
            "x": {"datum": 1.58, "type": "quantitative", "axis": null},
            "y": {"datum": 0.0444, "type": "quantitative", "axis": null},
            "text": {"field": "label"}
          }
        }
      ],
      "resolve": {"axis": {"x": "independent", "y": "independent"}}
    },
    {
      "width": 325, "height": 328,
      "transform": [{"filter": "datum.p == 2"}],
      "layer": [
        {
          "transform": [{"filter": "datum.s == 'solid'"}],
          "mark": {"type": "line", "interpolate": "step-after", "color": "black", "strokeWidth": 1.2},
          "encoding": {
            "x": {"field": "x", "type": "quantitative", "scale": {"domain": [0, 4], "nice": false}, "axis": {"orient": "bottom", "values": [0, 1, 2, 3, 4], "format": "~g", "tickSize": -13, "labelPadding": 21}},
            "y": {"field": "y", "type": "quantitative", "scale": {"domain": [0, 0.0486], "nice": false}, "axis": {"orient": "left", "values": [0, 0.005, 0.01, 0.015, 0.02, 0.025, 0.03, 0.035, 0.04, 0.045], "format": "~g", "tickSize": -14, "labelPadding": 34}}
          }
        },
        {
          "transform": [{"filter": "datum.s == 'dashed'"}],
          "mark": {"type": "line", "interpolate": "step-after", "color": "black", "strokeWidth": 1.2, "strokeDash": [5, 3]},
          "encoding": {
            "x": {"field": "x", "type": "quantitative", "axis": {"orient": "bottom", "values": [0.2, 0.4, 0.6, 0.8, 1.2, 1.4, 1.6, 1.8, 2.2, 2.4, 2.6, 2.8, 3.2, 3.4, 3.6, 3.8], "labels": false, "domain": false, "tickSize": -7}},
            "y": {"field": "y", "type": "quantitative", "axis": {"orient": "left", "values": [0.001, 0.002, 0.003, 0.004, 0.006, 0.007, 0.008, 0.009, 0.011, 0.012, 0.013, 0.014, 0.016, 0.017, 0.018, 0.019, 0.021, 0.022, 0.023, 0.024, 0.026, 0.027, 0.028, 0.029, 0.031, 0.032, 0.033, 0.034, 0.036, 0.037, 0.038, 0.039, 0.041, 0.042, 0.043, 0.044, 0.046, 0.047, 0.048], "labels": false, "domain": false, "tickSize": -7}}
          }
        },
        {
          "data": {"name": "labels"},
          "transform": [{"filter": "datum.p == 2"}],
          "mark": {"type": "text", "align": "left", "baseline": "middle", "font": "Open Sans", "fontSize": 28, "color": "black"},
          "encoding": {
            "x": {"datum": 0.91, "type": "quantitative", "axis": null},
            "y": {"datum": 0.0388, "type": "quantitative", "axis": null},
            "text": {"field": "label"}
          }
        }
      ],
      "resolve": {"axis": {"x": "independent", "y": "independent"}}
    },
    {
      "width": 327, "height": 327,
      "transform": [{"filter": "datum.p == 3"}],
      "layer": [
        {
          "transform": [{"filter": "datum.s == 'solid'"}],
          "mark": {"type": "line", "interpolate": "step-after", "color": "black", "strokeWidth": 1.2},
          "encoding": {
            "x": {"field": "x", "type": "quantitative", "scale": {"domain": [0, 4], "nice": false}, "axis": {"orient": "bottom", "values": [0, 1, 2, 3, 4], "format": "~g", "tickSize": -13, "labelPadding": 21}},
            "y": {"field": "y", "type": "quantitative", "scale": {"domain": [0, 0.048], "nice": false}, "axis": {"orient": "left", "values": [0, 0.005, 0.01, 0.015, 0.02, 0.025, 0.03, 0.035, 0.04, 0.045], "format": "~g", "tickSize": -14, "labelPadding": 34}}
          }
        },
        {
          "transform": [{"filter": "datum.s == 'dashed'"}],
          "mark": {"type": "line", "interpolate": "step-after", "color": "black", "strokeWidth": 1.2, "strokeDash": [5, 3]},
          "encoding": {
            "x": {"field": "x", "type": "quantitative", "axis": {"orient": "bottom", "values": [0.2, 0.4, 0.6, 0.8, 1.2, 1.4, 1.6, 1.8, 2.2, 2.4, 2.6, 2.8, 3.2, 3.4, 3.6, 3.8], "labels": false, "domain": false, "tickSize": -7}},
            "y": {"field": "y", "type": "quantitative", "axis": {"orient": "left", "values": [0.001, 0.002, 0.003, 0.004, 0.006, 0.007, 0.008, 0.009, 0.011, 0.012, 0.013, 0.014, 0.016, 0.017, 0.018, 0.019, 0.021, 0.022, 0.023, 0.024, 0.026, 0.027, 0.028, 0.029, 0.031, 0.032, 0.033, 0.034, 0.036, 0.037, 0.038, 0.039, 0.041, 0.042, 0.043, 0.044, 0.046, 0.047], "labels": false, "domain": false, "tickSize": -7}}
          }
        },
        {
          "data": {"name": "labels"},
          "transform": [{"filter": "datum.p == 3"}],
          "mark": {"type": "text", "align": "left", "baseline": "middle", "font": "Open Sans", "fontSize": 28, "color": "black"},
          "encoding": {
            "x": {"datum": 0.94, "type": "quantitative", "axis": null},
            "y": {"datum": 0.0282, "type": "quantitative", "axis": null},
            "text": {"field": "label"}
          }
        }
      ],
      "resolve": {"axis": {"x": "independent", "y": "independent"}}
    },
    {
      "width": 325, "height": 327,
      "transform": [{"filter": "datum.p == 4"}],
      "layer": [
        {
          "transform": [{"filter": "datum.s == 'solid'"}],
          "mark": {"type": "line", "interpolate": "step-after", "color": "black", "strokeWidth": 1.2},
          "encoding": {
            "x": {"field": "x", "type": "quantitative", "scale": {"domain": [0, 4], "nice": false}, "axis": {"orient": "bottom", "values": [0, 1, 2, 3, 4], "format": "~g", "tickSize": -13, "labelPadding": 21}},
            "y": {"field": "y", "type": "quantitative", "scale": {"domain": [0, 0.0358], "nice": false}, "axis": {"orient": "left", "values": [0, 0.005, 0.01, 0.015, 0.02, 0.025, 0.03, 0.035], "format": "~g", "tickSize": -14, "labelPadding": 34}}
          }
        },
        {
          "transform": [{"filter": "datum.s == 'dashed'"}],
          "mark": {"type": "line", "interpolate": "step-after", "color": "black", "strokeWidth": 1.2, "strokeDash": [5, 3]},
          "encoding": {
            "x": {"field": "x", "type": "quantitative", "axis": {"orient": "bottom", "values": [0.2, 0.4, 0.6, 0.8, 1.2, 1.4, 1.6, 1.8, 2.2, 2.4, 2.6, 2.8, 3.2, 3.4, 3.6, 3.8], "labels": false, "domain": false, "tickSize": -7}},
            "y": {"field": "y", "type": "quantitative", "axis": {"orient": "left", "values": [0.001, 0.002, 0.003, 0.004, 0.006, 0.007, 0.008, 0.009, 0.011, 0.012, 0.013, 0.014, 0.016, 0.017, 0.018, 0.019, 0.021, 0.022, 0.023, 0.024, 0.026, 0.027, 0.028, 0.029, 0.031, 0.032, 0.033, 0.034], "labels": false, "domain": false, "tickSize": -7}}
          }
        },
        {
          "data": {"name": "labels"},
          "transform": [{"filter": "datum.p == 4"}],
          "mark": {"type": "text", "align": "left", "baseline": "middle", "font": "Open Sans", "fontSize": 28, "color": "black"},
          "encoding": {
            "x": {"datum": 0.91, "type": "quantitative", "axis": null},
            "y": {"datum": 0.0275, "type": "quantitative", "axis": null},
            "text": {"field": "label"}
          }
        }
      ],
      "resolve": {"axis": {"x": "independent", "y": "independent"}}
    }
  ]
}
